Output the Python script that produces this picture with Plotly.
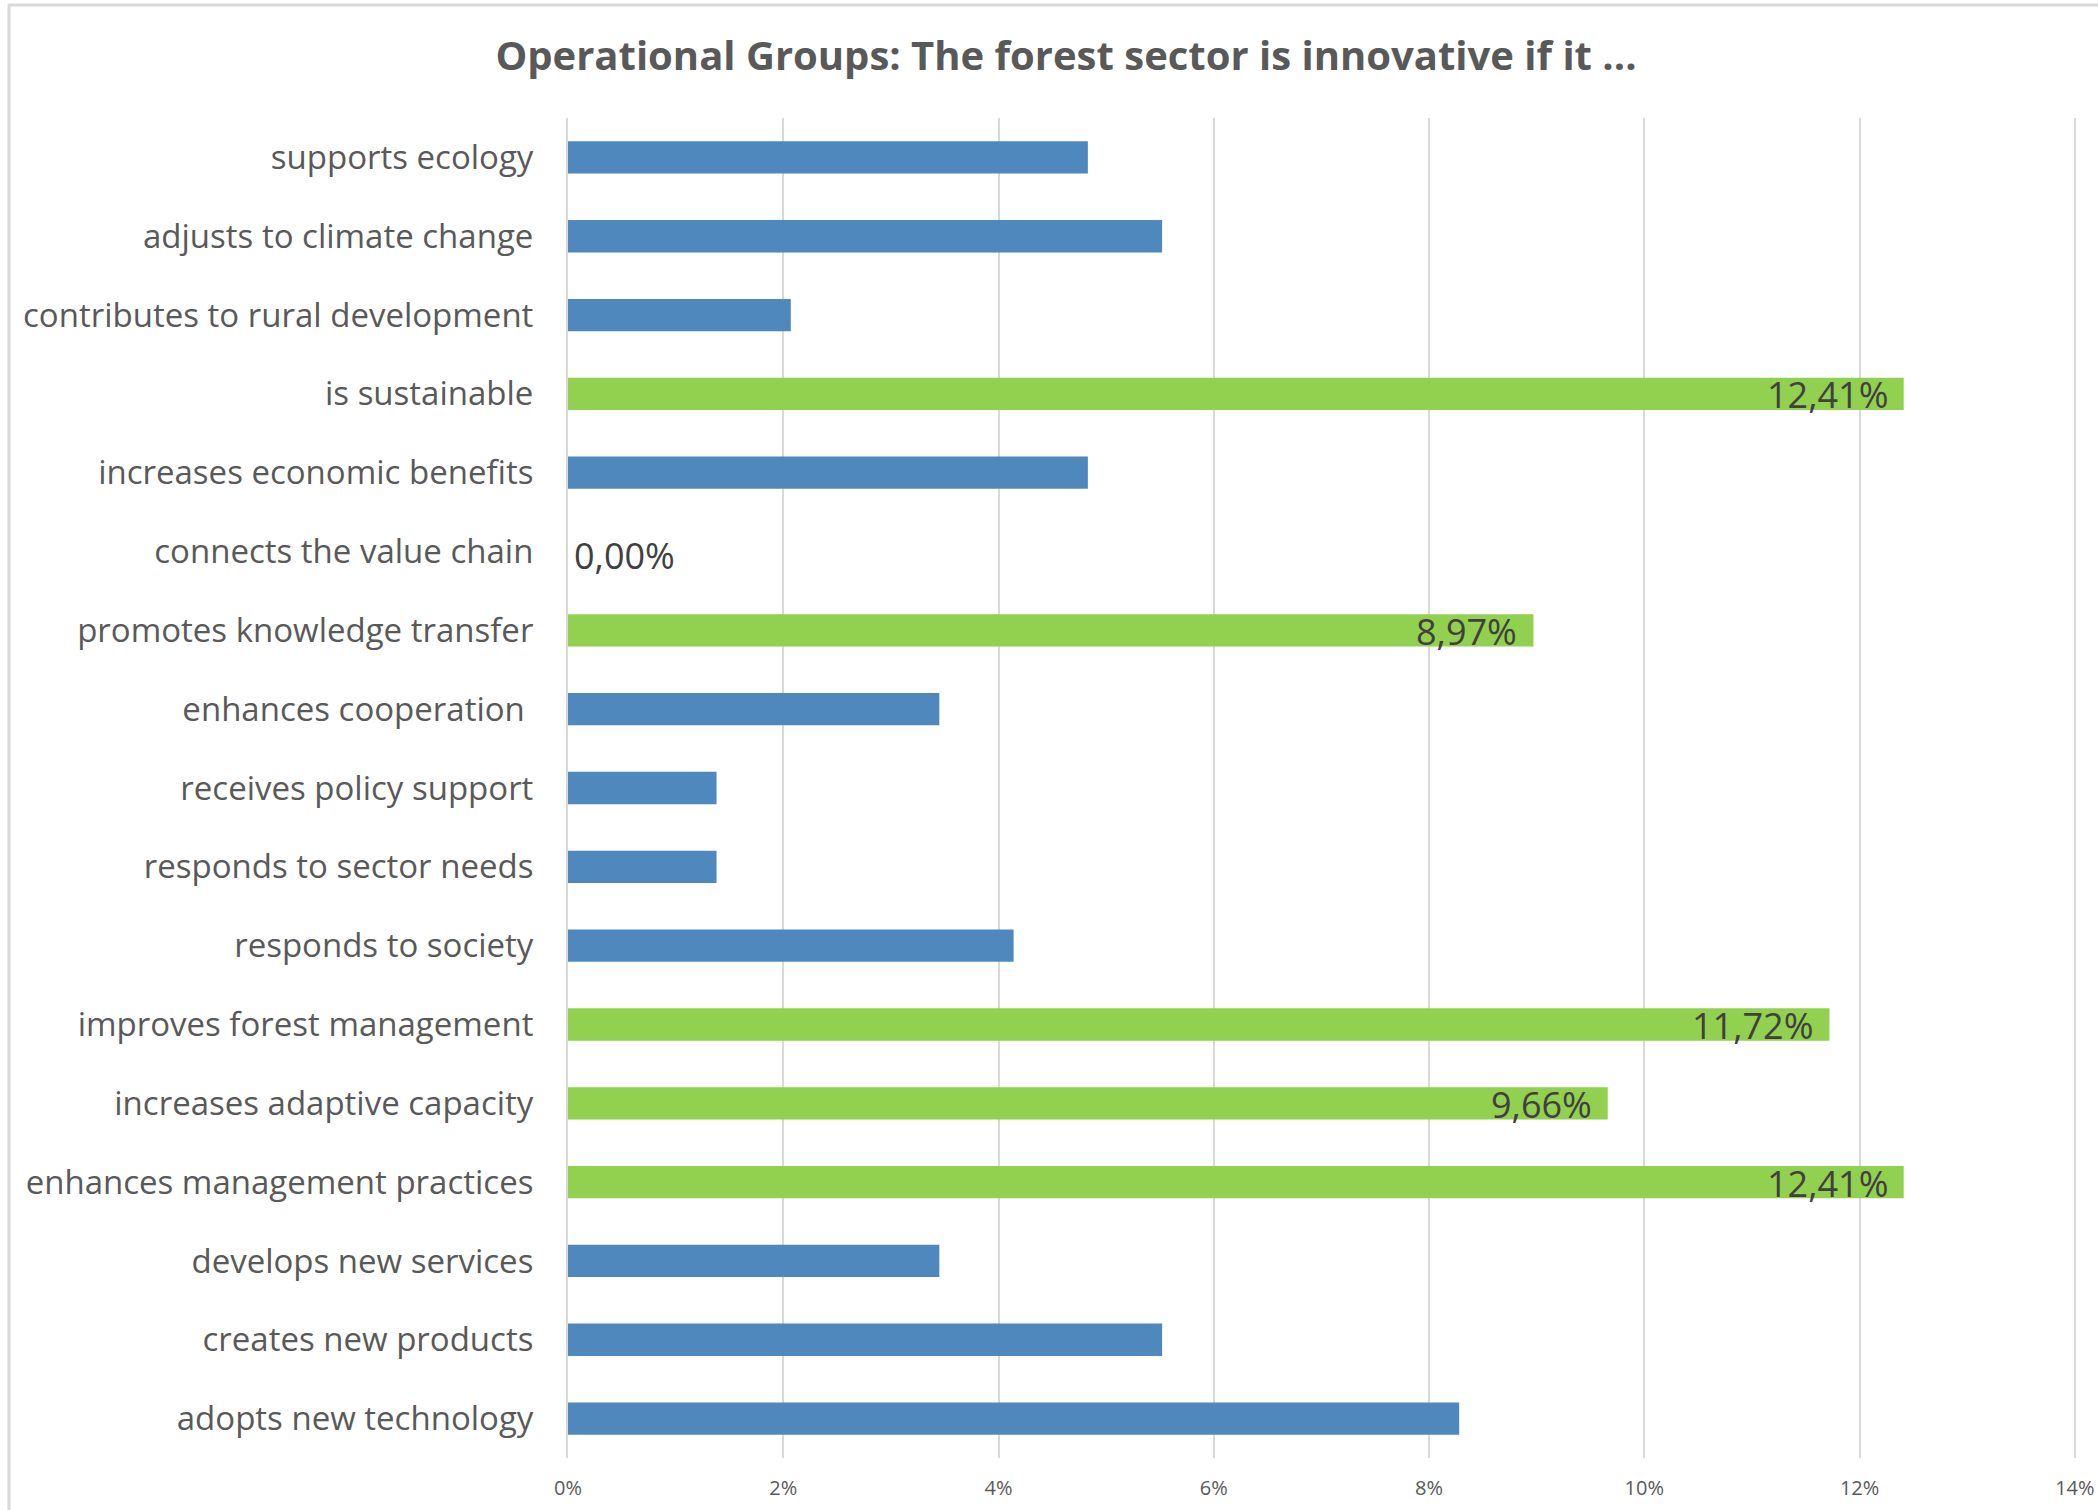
import plotly.graph_objects as go

categories = [
    "supports ecology",
    "adjusts to climate change",
    "contributes to rural development",
    "is sustainable",
    "increases economic benefits",
    "connects the value chain",
    "promotes knowledge transfer",
    "enhances cooperation\u00a0",
    "receives policy support",
    "responds to sector needs",
    "responds to society",
    "improves forest management",
    "increases adaptive capacity",
    "enhances management practices",
    "develops new services",
    "creates new products",
    "adopts new technology",
]
values = [4.83, 5.52, 2.07, 12.41, 4.83, 0.00, 8.97, 3.45, 1.38, 1.38, 4.14,
          11.72, 9.66, 12.41, 3.45, 5.52, 8.28]
highlight = [False, False, False, True, False, True, True, False, False, False,
             False, True, True, True, False, False, False]
tick_vals = [0, 2, 4, 6, 8, 10, 12, 14]
tick_text = ["0%", "2%", "4%", "6%", "8%", "10%", "12%", "14%"]

BLUE = "#4F88BC"
GREEN = "#92D050"
colors = [GREEN if h else BLUE for h in highlight]

W, H = 2098, 1510
ML, MR, MT, MB = 568, 21, 118, 52

fig = go.Figure()
fig.add_trace(go.Bar(
    x=values, y=categories, orientation="h",
    marker=dict(color=colors, line=dict(width=0)),
    hoverinfo="x+y",
))

def fmt(v):
    return f"{v:.2f}".replace(".", ",") + "%"

LABEL_FONT = dict(family="Open Sans", size=36, color="#404040")
for c, v, h in zip(categories, values, highlight):
    if not h:
        continue
    if v > 0:
        fig.add_annotation(x=v, y=c, xref="x", yref="y", text=fmt(v),
                           showarrow=False, xanchor="right", xshift=-14, yshift=-1,
                           font=LABEL_FONT)
    else:
        fig.add_annotation(x=v, y=c, xref="x", yref="y", text=fmt(v),
                           showarrow=False, xanchor="left", xshift=4, yshift=-4,
                           font=LABEL_FONT)

pw = W - ML - MR
ph = H - MT - MB
def px_x(x):
    return (x - ML) / pw
def px_y(y):
    return (H - MB - y) / ph

# chart border (left and top edges)
fig.add_shape(type="line", xref="paper", yref="paper",
              x0=px_x(9), x1=px_x(9), y0=px_y(4), y1=px_y(1512),
              line=dict(color="#D9D9D9", width=3))
fig.add_shape(type="line", xref="paper", yref="paper",
              x0=px_x(8), x1=px_x(2100), y0=px_y(5), y1=px_y(5),
              line=dict(color="#D9D9D9", width=3))

fig.update_layout(
    width=W, height=H,
    margin=dict(l=ML, r=MR, t=MT, b=MB, pad=0, autoexpand=False),
    paper_bgcolor="white", plot_bgcolor="white",
    title=dict(text="<b>Operational Groups: The forest sector is innovative if it ...</b>",
               x=1066 / W, xanchor="center",
               y=1 - 56 / H, yanchor="middle",
               font=dict(family="Open Sans", size=40, color="#595959")),
    bargap=0.59,
    showlegend=False,
    xaxis=dict(range=[0, 14.02], tickvals=tick_vals, ticktext=tick_text,
               showgrid=True, gridcolor="#D9D9D9", gridwidth=2,
               zeroline=False, showline=False, ticks="", automargin=False,
               tickfont=dict(family="Open Sans", size=20, color="#595959"),
               ticklabelstandoff=16, ticklabeloverflow="allow"),
    yaxis=dict(autorange="reversed", showgrid=False, zeroline=False,
               showline=True, linecolor="#D9D9D9", linewidth=2, ticks="",
               automargin=False,
               tickfont=dict(family="Open Sans", size=33, color="#595959"),
               ticklabelstandoff=26),
)

fig.write_html("out.html", config={"displayModeBar": False},
               post_script="document.body.style.margin='0';document.body.style.overflow='hidden';")
